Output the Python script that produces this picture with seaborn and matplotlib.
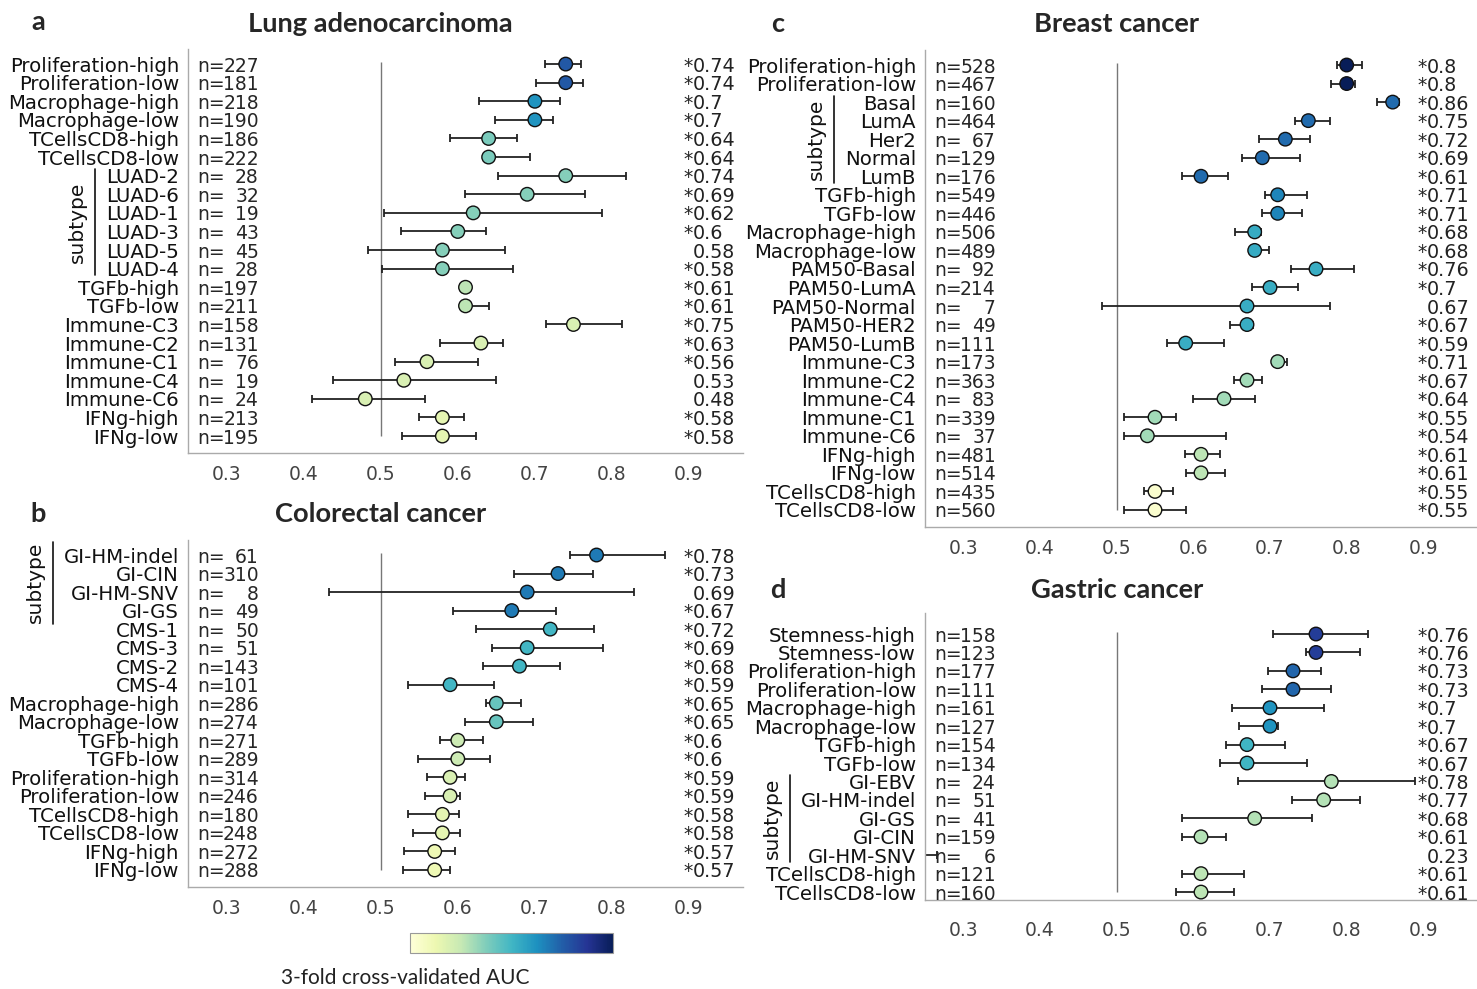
import matplotlib
matplotlib.use('Agg')
import matplotlib.pyplot as plt
import matplotlib.transforms as mtransforms
from matplotlib.colors import Normalize
from matplotlib.cm import ScalarMappable
import numpy as np
import pandas as pd
import seaborn as sns

# ---------------- data ----------------
# a. Lung adenocarcinoma
a_labels = ['Proliferation-high', 'Proliferation-low', 'Macrophage-high', 'Macrophage-low',
            'TCellsCD8-high', 'TCellsCD8-low', 'LUAD-2', 'LUAD-6', 'LUAD-1', 'LUAD-3',
            'LUAD-5', 'LUAD-4', 'TGFb-high', 'TGFb-low', 'Immune-C3', 'Immune-C2',
            'Immune-C1', 'Immune-C4', 'Immune-C6', 'IFNg-high', 'IFNg-low']
a_n = [227, 181, 218, 190, 186, 222, 28, 32, 19, 43, 45, 28, 197, 211, 158, 131, 76, 19, 24, 213, 195]
a_auc = [0.74, 0.74, 0.70, 0.70, 0.64, 0.64, 0.74, 0.69, 0.62, 0.60, 0.58, 0.58, 0.61, 0.61,
         0.75, 0.63, 0.56, 0.53, 0.48, 0.58, 0.58]
a_lo = [0.713, 0.702, 0.627, 0.648, 0.590, 0.634, 0.652, 0.609, 0.504, 0.526, 0.483, 0.502,
        0.607, 0.607, 0.714, 0.577, 0.519, 0.438, 0.411, 0.550, 0.528]
a_hi = [0.760, 0.762, 0.732, 0.723, 0.677, 0.694, 0.818, 0.765, 0.787, 0.637, 0.661, 0.672,
        0.613, 0.641, 0.813, 0.659, 0.626, 0.649, 0.558, 0.608, 0.624]
a_sig = [1, 1, 1, 1, 1, 1, 1, 1, 1, 1, 0, 1, 1, 1, 1, 1, 1, 0, 0, 1, 1]
a_group = ['Proliferation'] * 2 + ['Macrophage'] * 2 + ['TCellsCD8'] * 2 + ['subtype'] * 6 + \
          ['TGFb'] * 2 + ['Immune'] * 5 + ['IFNg'] * 2

# b. Colorectal cancer
b_labels = ['GI-HM-indel', 'GI-CIN', 'GI-HM-SNV', 'GI-GS', 'CMS-1', 'CMS-3', 'CMS-2', 'CMS-4',
            'Macrophage-high', 'Macrophage-low', 'TGFb-high', 'TGFb-low', 'Proliferation-high',
            'Proliferation-low', 'TCellsCD8-high', 'TCellsCD8-low', 'IFNg-high', 'IFNg-low']
b_n = [61, 310, 8, 49, 50, 51, 143, 101, 286, 274, 271, 289, 314, 246, 180, 248, 272, 288]
b_auc = [0.78, 0.73, 0.69, 0.67, 0.72, 0.69, 0.68, 0.59, 0.65, 0.65, 0.60, 0.60, 0.59, 0.59,
         0.58, 0.58, 0.57, 0.57]
b_lo = [0.746, 0.673, 0.433, 0.594, 0.624, 0.644, 0.633, 0.536, 0.636, 0.610, 0.577, 0.548,
        0.560, 0.558, 0.536, 0.542, 0.530, 0.529]
b_hi = [0.869, 0.775, 0.829, 0.727, 0.777, 0.788, 0.732, 0.647, 0.682, 0.698, 0.633, 0.642,
        0.610, 0.603, 0.602, 0.603, 0.597, 0.590]
b_sig = [1, 1, 0, 1, 1, 1, 1, 1, 1, 1, 1, 1, 1, 1, 1, 1, 1, 1]
b_group = ['subtype'] * 4 + ['CMS'] * 4 + ['Macrophage'] * 2 + ['TGFb'] * 2 + \
          ['Proliferation'] * 2 + ['TCellsCD8'] * 2 + ['IFNg'] * 2

# c. Breast cancer
c_labels = ['Proliferation-high', 'Proliferation-low', 'Basal', 'LumA', 'Her2', 'Normal', 'LumB',
            'TGFb-high', 'TGFb-low', 'Macrophage-high', 'Macrophage-low', 'PAM50-Basal',
            'PAM50-LumA', 'PAM50-Normal', 'PAM50-HER2', 'PAM50-LumB', 'Immune-C3', 'Immune-C2',
            'Immune-C4', 'Immune-C1', 'Immune-C6', 'IFNg-high', 'IFNg-low', 'TCellsCD8-high',
            'TCellsCD8-low']
c_n = [528, 467, 160, 464, 67, 129, 176, 549, 446, 506, 489, 92, 214, 7, 49, 111, 173, 363, 83,
       339, 37, 481, 514, 435, 560]
c_auc = [0.80, 0.80, 0.86, 0.75, 0.72, 0.69, 0.61, 0.71, 0.71, 0.68, 0.68, 0.76, 0.70, 0.67,
         0.67, 0.59, 0.71, 0.67, 0.64, 0.55, 0.54, 0.61, 0.61, 0.55, 0.55]
c_lo = [0.788, 0.779, 0.839, 0.732, 0.686, 0.663, 0.585, 0.693, 0.689, 0.654, 0.675, 0.727,
        0.677, 0.481, 0.648, 0.566, 0.705, 0.653, 0.599, 0.510, 0.509, 0.589, 0.590, 0.536, 0.510]
c_hi = [0.820, 0.811, 0.868, 0.778, 0.752, 0.739, 0.645, 0.748, 0.742, 0.688, 0.699, 0.810,
        0.737, 0.778, 0.678, 0.640, 0.722, 0.689, 0.680, 0.578, 0.642, 0.635, 0.641, 0.574, 0.590]
c_sig = [1] * 13 + [0] + [1] * 11
c_group = ['Proliferation'] * 2 + ['subtype'] * 5 + ['TGFb'] * 2 + ['Macrophage'] * 2 + \
          ['PAM50'] * 5 + ['Immune'] * 5 + ['IFNg'] * 2 + ['TCellsCD8'] * 2

# d. Gastric cancer
d_labels = ['Stemness-high', 'Stemness-low', 'Proliferation-high', 'Proliferation-low',
            'Macrophage-high', 'Macrophage-low', 'TGFb-high', 'TGFb-low', 'GI-EBV', 'GI-HM-indel',
            'GI-GS', 'GI-CIN', 'GI-HM-SNV', 'TCellsCD8-high', 'TCellsCD8-low']
d_n = [158, 123, 177, 111, 161, 127, 154, 134, 24, 51, 41, 159, 6, 121, 160]
d_auc = [0.76, 0.76, 0.73, 0.73, 0.70, 0.70, 0.67, 0.67, 0.78, 0.77, 0.68, 0.61, 0.23, 0.61, 0.61]
d_lo = [0.704, 0.747, 0.698, 0.690, 0.650, 0.660, 0.642, 0.635, 0.658, 0.729, 0.585, 0.585,
        0.190, 0.585, 0.578]
d_hi = [0.828, 0.818, 0.767, 0.779, 0.771, 0.711, 0.720, 0.748, 0.889, 0.817, 0.755, 0.642,
        0.266, 0.666, 0.653]
d_sig = [1] * 12 + [0] + [1] * 2
d_group = ['Stemness'] * 2 + ['Proliferation'] * 2 + ['Macrophage'] * 2 + ['TGFb'] * 2 + \
          ['subtype'] * 5 + ['TCellsCD8'] * 2

x_ticks = [0.3, 0.4, 0.5, 0.6, 0.7, 0.8, 0.9]
cbar_ticks = [0.55, 0.60, 0.65, 0.70, 0.75]

# ---------------- style ----------------
sns.set_style('white')
plt.rcParams['font.family'] = ['DejaVu Sans']
FS = 13.5
FS_ROW = 14.2
NORM = (0.54, 0.80)
W, H = 1477, 989
TITLE_FONT = ['Lato', 'DejaVu Sans']

fig = plt.figure(figsize=(W / 100, H / 100), dpi=100)


def px_axes(left, top, right, bottom):
    return fig.add_axes([left / W, 1 - bottom / H, (right - left) / W, (bottom - top) / H])


def draw_panel(ax, labels, n, auc, lo, hi, sig, group, ylim, xpad):
    df = pd.DataFrame(dict(label=labels, n=n, auc=auc, lo=lo, hi=hi, sig=sig, group=group))
    df['row'] = np.arange(len(df))
    # marker colour = mean AUC of the feature group
    df['shade'] = df.groupby('group')['auc'].transform('mean')

    ax.vlines(0.5, -0.1, len(df) - 1, color='#777777', lw=1, zorder=1)
    ax.errorbar(df['auc'], df['row'], xerr=[df['auc'] - df['lo'], df['hi'] - df['auc']],
                fmt='none', ecolor='#222222', elinewidth=1.3, capsize=3, capthick=1.3, zorder=2)
    sns.scatterplot(data=df, x='auc', y='row', hue='shade', palette='YlGnBu', hue_norm=NORM,
                    s=95, edgecolor='#111111', linewidth=1, legend=False, ax=ax, zorder=3)

    ax.set_xlim(0.25, 0.97)
    ax.set_ylim(*ylim)
    ax.set_xlabel('')
    ax.set_ylabel('')
    ax.set_yticks(df['row'])
    ax.set_yticklabels(df['label'])
    ax.set_xticks(x_ticks)
    ax.set_xticklabels([f'{t:.1f}' for t in x_ticks])
    ax.tick_params(axis='y', length=0, pad=6.5, labelsize=FS_ROW, labelcolor='#111111')
    ax.tick_params(axis='x', length=0, pad=xpad, labelsize=FS, labelcolor='#444444')
    sns.despine(ax=ax)
    for s in ['left', 'bottom']:
        ax.spines[s].set_color('#aaaaaa')
        ax.spines[s].set_linewidth(1)

    blend = mtransforms.blended_transform_factory(ax.transAxes, ax.transData)
    for r in df.itertuples():
        ax.annotate('n=', xy=(0, r.row), xycoords=blend, xytext=(6.5, 0),
                    textcoords='offset points', ha='left', va='center_baseline', fontsize=FS)
        ax.annotate(str(r.n), xy=(0, r.row), xycoords=blend, xytext=(51, 0),
                    textcoords='offset points', ha='right', va='center_baseline', fontsize=FS)
        ax.text(0.905, r.row, f'{r.auc:g}', ha='left', va='center_baseline', fontsize=FS + 0.3,
                color='#222222')
        if r.sig:
            ax.text(0.905, r.row, '*', ha='right', va='center_baseline', fontsize=FS,
                    color='#222222')
    return df


panels = [
    ('a', 'Lung adenocarcinoma', (188, 49, 743, 453), (20.91, -0.81), 8.5, 24, (38, 22),
     a_labels, a_n, a_auc, a_lo, a_hi, a_sig, a_group),
    ('b', 'Colorectal cancer', (188, 540, 743, 887), (17.92, -0.81), 8.5, 514, (38, 514),
     b_labels, b_n, b_auc, b_lo, b_hi, b_sig, b_group),
    ('c', 'Breast cancer', (925, 50, 1477, 527), (24.92, -0.81), 8.5, 24, (778, 24),
     c_labels, c_n, c_auc, c_lo, c_hi, c_sig, c_group),
    ('d', 'Gastric cancer', (925, 613, 1477, 900), (14.43, -1.14), 15, 590, (778, 590),
     d_labels, d_n, d_auc, d_lo, d_hi, d_sig, d_group),
]

drawn = []
for letter, title, box, ylim, xpad, ty, lxy, *data in panels:
    ax = px_axes(*box)
    df = draw_panel(ax, *data, ylim=ylim, xpad=xpad)
    drawn.append((ax, df))
    xd = ax.transData.transform((0.5, 0))[0]
    fig.text(xd / W, 1 - ty / H, title, ha='center', va='center', family=TITLE_FONT,
             fontweight='bold', fontsize=19.6)
    fig.text(lxy[0] / W, 1 - lxy[1] / H, letter, ha='center', va='center', family=TITLE_FONT,
             fontweight='bold', fontsize=19.5)

# subtype brackets, placed left of the widest subtype label
fig.canvas.draw()
renderer = fig.canvas.get_renderer()
for ax, df in drawn:
    rows = df.index[df['group'] == 'subtype']
    tls = ax.get_yticklabels()
    x0 = min(tls[i].get_window_extent(renderer).x0 for i in rows)
    bb = ax.get_window_extent(renderer)
    blend = mtransforms.blended_transform_factory(ax.transAxes, ax.transData)
    xl = (x0 - 11 - bb.x0) / bb.width
    xt = (x0 - 19 - bb.x0) / bb.width
    center = (rows.min() + rows.max()) / 2
    half = max((len(rows) - 1) / 2 + 0.35, 2.2)
    ax.plot([xl, xl], [center - half, center + half], transform=blend, clip_on=False,
            color='#111111', lw=1.2)
    ax.text(xt, center, 'subtype', transform=blend, rotation=90, ha='right', va='center',
            fontsize=14.5, color='#111111')

# colour bar
cax = fig.add_axes([410 / W, 1 - 953 / H, 203 / W, 20 / H])
cb = fig.colorbar(ScalarMappable(norm=Normalize(*NORM), cmap='YlGnBu'), cax=cax,
                  orientation='horizontal')
cb.set_ticks(cbar_ticks)
cb.ax.tick_params(direction='in', length=3, width=0.8, color='#888888', labelbottom=False)
cb.outline.set_edgecolor('#999999')
fig.text(405 / W, 1 - 978 / H, '3-fold cross-validated AUC', ha='center', va='center',
         family=TITLE_FONT, fontsize=15, color='#222222')

fig.savefig('out.png', dpi=100)
